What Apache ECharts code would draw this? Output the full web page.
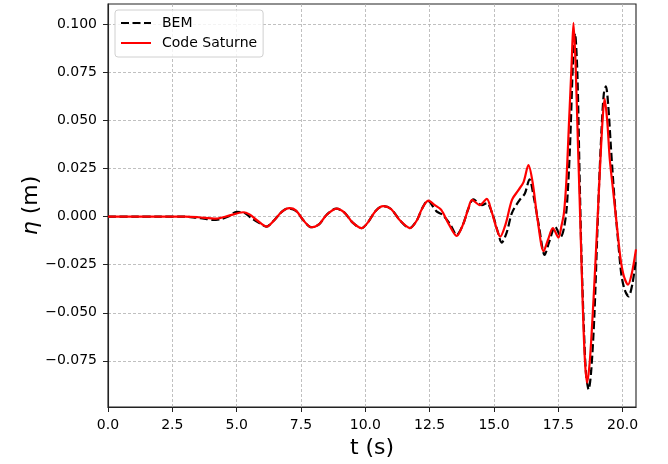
<!DOCTYPE html>
<html>
<head>
<meta charset="utf-8">
<script src="https://cdn.jsdelivr.net/npm/echarts@6/dist/echarts.min.js"></script>
<style>
  html, body { margin: 0; padding: 0; background: #fff; }
  #chart { width: 668px; height: 464px; }
</style>
</head>
<body>
<div id="chart"></div>
<script>
// tick positions
const xTicks = [0, 2.5, 5, 7.5, 10, 12.5, 15, 17.5, 20];
const yTicks = [-0.075, -0.05, -0.025, 0, 0.025, 0.05, 0.075, 0.1];

// BEM (dashed black)
const bemTime = [0, 1, 2, 3, 3.4, 3.8, 4.07, 4.4, 4.7, 5.0, 5.3, 5.6, 5.9, 6.15, 6.45, 6.75, 7.0, 7.3, 7.6, 7.9,
  8.2, 8.5, 8.87, 9.2, 9.5, 9.85, 10.1, 10.4, 10.7, 11.0, 11.35, 11.72, 12.0, 12.2, 12.42, 12.78, 13.0, 13.3,
  13.55, 13.8, 14.0, 14.2, 14.53, 14.72, 14.95, 15.15, 15.3, 15.5, 15.7, 16.0, 16.2, 16.38, 16.55, 16.75, 16.97,
  17.15, 17.38, 17.6, 17.72, 17.83, 17.95, 18.07, 18.15, 18.24, 18.33, 18.4, 18.5, 18.58, 18.68, 18.78, 18.9, 19.0,
  19.08, 19.18, 19.27, 19.35, 19.44, 19.55, 19.68, 19.82, 19.95, 20.08, 20.23, 20.38, 20.52];
const bemEta = [0, 0, 0, 0, -0.0005, -0.0012, -0.0017, -0.0012, 0.0002, 0.0025, 0.002, -0.001, -0.0035, -0.0052, -0.002, 0.0025, 0.0043, 0.003, -0.002, -0.0055,
  -0.004, 0.001, 0.0042, 0.002, -0.003, -0.006, -0.003, 0.003, 0.0055, 0.004, -0.002, -0.006, -0.002, 0.004, 0.0083, 0.0026, 0.001, -0.004,
  -0.0095, -0.004, 0.004, 0.009, 0.006, 0.007, 0.001, -0.008, -0.0135, -0.008, 0.002, 0.0087, 0.012, 0.0194, 0.01, -0.005, -0.0199,
  -0.013, -0.0052, -0.0104, -0.006, 0.005, 0.035, 0.08, 0.0953, 0.075, 0.02, -0.02, -0.06, -0.082, -0.0899, -0.08, -0.052, -0.015,
  0.015, 0.045, 0.064, 0.0678, 0.058, 0.035, 0.01, -0.012, -0.03, -0.038, -0.0415, -0.035, -0.022];

// Code Saturne (solid red)
const csTime = [0, 1, 2, 3, 3.5, 4.2, 4.7, 5.25, 5.5, 5.8, 6.17, 6.45, 6.75, 7.05, 7.3, 7.6, 7.9, 8.2, 8.5, 8.89,
  9.2, 9.5, 9.86, 10.1, 10.4, 10.7, 11.0, 11.35, 11.74, 12.0, 12.2, 12.45, 12.7, 12.95, 13.25, 13.55, 13.8, 14.0,
  14.15, 14.45, 14.72, 14.9, 15.1, 15.24, 15.45, 15.7, 15.95, 16.15, 16.34, 16.5, 16.7, 16.93, 17.1, 17.29, 17.51,
  17.62, 17.72, 17.82, 17.92, 18.02, 18.09, 18.17, 18.27, 18.35, 18.46, 18.54, 18.62, 18.72, 18.82, 18.92, 19.03,
  19.12, 19.22, 19.3, 19.4, 19.5, 19.62, 19.78, 19.92, 20.05, 20.21, 20.35, 20.52];
const csEta = [0, 0, 0, 0, -0.0003, -0.001, 0.0005, 0.0023, 0.0012, -0.002, -0.0052, -0.002, 0.0025, 0.0044, 0.0033, -0.002, -0.0055, -0.004, 0.001, 0.0042,
  0.002, -0.003, -0.006, -0.003, 0.003, 0.0055, 0.004, -0.002, -0.006, -0.002, 0.004, 0.0083, 0.006, 0.0035, -0.004, -0.01, -0.004, 0.004,
  0.0087, 0.006, 0.0092, 0.003, -0.006, -0.0104, -0.004, 0.0087, 0.0138, 0.018, 0.0268, 0.018, -0.002, -0.018, -0.012, -0.006, -0.0109,
  -0.005, 0.002, 0.02, 0.05, 0.08, 0.1008, 0.08, 0.035, 0.0, -0.05, -0.076, -0.0864, -0.076, -0.055, -0.03, 0.0,
  0.025, 0.05, 0.0614, 0.05, 0.03, 0.015, -0.005, -0.022, -0.031, -0.0354, -0.03, -0.017];

const font = 'DejaVu Sans';
const fmtMinus = s => s.replace('-', '\u2212');

const chart = echarts.init(document.getElementById('chart'), null, { renderer: 'canvas' });

const option = {
  animation: false,
  backgroundColor: '#fff',
  grid: {
    left: 108, right: 32, top: 4, bottom: 56,
    show: true, borderColor: '#222', borderWidth: 1.1
  },
  legend: {
    orient: 'vertical',
    left: 115, top: 10,
    padding: [6, 6, 7, 5],
    itemWidth: 30, itemHeight: 14, itemGap: 6,
    backgroundColor: 'rgba(255,255,255,0.8)',
    borderColor: '#d0d0d0', borderWidth: 1, borderRadius: 3,
    itemStyle: { opacity: 0 },   // line only, no marker
    textStyle: { fontFamily: font, fontSize: 14, color: '#000', padding: [0, 0, 0, 6] },
    data: ['BEM', 'Code Saturne']
  },
  xAxis: {
    type: 'value', min: 0, max: 20.52,
    name: 't (s)', nameLocation: 'middle', nameGap: 30, nameMoveOverlap: false,
    nameTextStyle: { fontFamily: font, fontSize: 22, color: '#000' },
    axisLine: { show: true, onZero: false, lineStyle: { color: '#222', width: 1.1 } },
    axisTick: { show: true, length: 5, customValues: xTicks, lineStyle: { color: '#222', width: 1 } },
    axisLabel: { customValues: xTicks, margin: 11, fontFamily: font, fontSize: 14, color: '#000',
      formatter: v => v.toFixed(1) },
    splitLine: { show: true, lineStyle: { color: '#b0b0b0', type: [3, 2], width: 0.8 } }
  },
  yAxis: {
    type: 'value', min: -0.099, max: 0.1106,
    name: '{i|\u03b7} (m)', nameLocation: 'middle', nameGap: 66, nameRotate: 90, nameMoveOverlap: false,
    nameTextStyle: {
      fontFamily: font, fontSize: 22, color: '#000',
      rich: { i: { fontFamily: font, fontSize: 22, fontStyle: 'italic', color: '#000' } }
    },
    axisLine: { show: true, onZero: false, lineStyle: { color: '#222', width: 1.1 } },
    axisTick: { show: true, length: 5, customValues: yTicks, lineStyle: { color: '#222', width: 1 } },
    axisLabel: { customValues: yTicks, margin: 11, fontFamily: font, fontSize: 14, color: '#000',
      formatter: v => fmtMinus(v.toFixed(3)) },
    splitLine: { show: true, lineStyle: { color: '#b0b0b0', type: [3, 2], width: 0.8 } }
  },
  series: [
    {
      name: 'BEM', type: 'line', symbol: 'none', smooth: 0.3,
      data: bemTime.map((t, i) => [t, bemEta[i]]),
      lineStyle: { color: '#000', width: 2.2, type: [8, 3.5] },
      itemStyle: { color: '#000' },
      z: 2
    },
    {
      name: 'Code Saturne', type: 'line', symbol: 'none', smooth: 0.3,
      data: csTime.map((t, i) => [t, csEta[i]]),
      lineStyle: { color: '#ff0000', width: 2.2 },
      itemStyle: { color: '#ff0000' },
      z: 3
    }
  ]
};

chart.setOption(option);
</script>
</body>
</html>
